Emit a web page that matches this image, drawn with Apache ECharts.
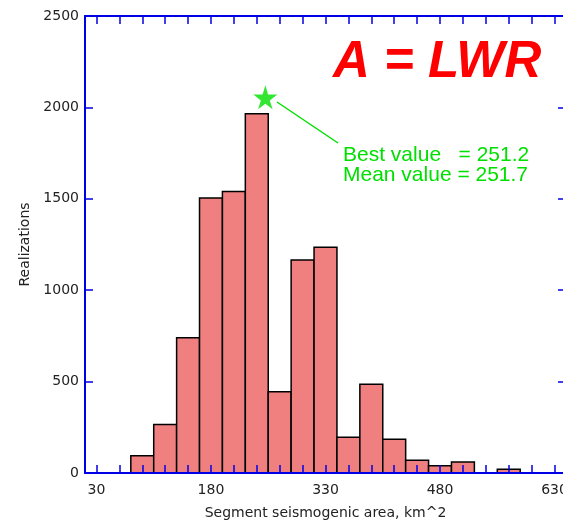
<!DOCTYPE html>
<html>
<head>
<meta charset="utf-8">
<script src="https://cdn.jsdelivr.net/npm/echarts@6/dist/echarts.min.js"></script>
<style>
html, body { margin: 0; padding: 0; background: #fff; }
#main { width: 563px; height: 527px; }
</style>
</head>
<body>
<div id="main"></div>
<script>
// histogram bins (lower edge, km^2) and realization counts
var binLow = [75, 105, 135, 165, 195, 225, 255, 285, 315, 345, 375, 405, 435, 465, 495, 525, 555];
var binWidth = 30;
var counts = [95, 265, 740, 1505, 1540, 1965, 445, 1165, 1235, 195, 485, 185, 70, 40, 60, 0, 20];

var xTickValues = [30, 60, 90, 120, 150, 180, 210, 240, 270, 300, 330, 360, 390, 420, 450, 480, 510, 540, 570, 600, 630];
var xLabelValues = [30, 180, 330, 480, 630];

var bestValue = 251.2;
var meanValue = 251.7;
var starHeight = 2055;

var blue = '#0000E6';
var green = '#00E000';

var data = [];
for (var i = 0; i < binLow.length; i++) {
	data.push([binLow[i], binLow[i] + binWidth, counts[i]]);
}

function renderItem(params, api) {
	var n = api.value(2);
	if (!n) {
		return;
	}
	var p0 = api.coord([api.value(0), n]);
	var p1 = api.coord([api.value(1), 0]);
	return {
		type: 'rect',
		shape: { x: p0[0], y: p0[1], width: p1[0] - p0[0], height: p1[1] - p0[1] },
		style: { fill: '#F08080', stroke: '#000', lineWidth: 1.5 }
	};
}

var tickStyle = { color: blue, width: 1.5 };
var lineStyle = { color: blue, width: 2 };
var labelFont = { color: '#222', fontFamily: 'DejaVu Sans', fontSize: 14 };

var myChart = echarts.init(document.getElementById('main'));
var option = {
	animation: false,
	grid: { left: 85, top: 16, width: 481, height: 457, outerBoundsMode: 'none', containLabel: false },
	xAxis: [{
		type: 'value',
		position: 'bottom',
		min: 15,
		max: 645,
		z: 10,
		axisLine: { show: true, onZero: false, lineStyle: lineStyle },
		axisTick: { show: true, inside: true, length: 8, customValues: xTickValues, lineStyle: tickStyle },
		axisLabel: Object.assign({ customValues: xLabelValues, margin: 10 }, labelFont),
		splitLine: { show: false },
		name: 'Segment seismogenic area, km^2',
		nameLocation: 'middle',
		nameGap: 33,
		nameTextStyle: { color: '#222', fontFamily: 'DejaVu Sans', fontSize: 14 }
	}, {
		type: 'value',
		position: 'top',
		min: 15,
		max: 645,
		z: 10,
		axisLine: { show: true, onZero: false, lineStyle: lineStyle },
		axisTick: { show: true, inside: true, length: 8, customValues: xTickValues, lineStyle: tickStyle },
		axisLabel: { show: false },
		splitLine: { show: false }
	}],
	yAxis: [{
		type: 'value',
		position: 'left',
		min: 0,
		max: 2500,
		interval: 500,
		z: 10,
		axisLine: { show: true, onZero: false, lineStyle: lineStyle },
		axisTick: { show: true, inside: true, length: 8, lineStyle: tickStyle },
		axisLabel: Object.assign({ margin: 6, formatter: function (v) { return String(v); } }, labelFont),
		splitLine: { show: false },
		name: 'Realizations',
		nameLocation: 'middle',
		nameRotate: 90,
		nameGap: 52,
		nameTextStyle: { color: '#222', fontFamily: 'DejaVu Sans', fontSize: 14 }
	}, {
		type: 'value',
		position: 'right',
		min: 0,
		max: 2500,
		interval: 500,
		z: 10,
		axisLine: { show: true, onZero: false, lineStyle: lineStyle },
		axisTick: { show: true, inside: true, length: 8, lineStyle: tickStyle },
		axisLabel: { show: false },
		splitLine: { show: false }
	}],
	series: [{
		type: 'custom',
		renderItem: renderItem,
		encode: { x: [0, 1], y: 2 },
		data: data
	}, {
		type: 'scatter',
		symbol: 'path://M50,0 L61,35 L98,35 L68,57 L79,91 L50,70 L21,91 L32,57 L2,35 L39,35 Z',
		symbolSize: 24,
		itemStyle: { color: green },
		data: [[bestValue, starHeight]],
		z: 5
	}],
	graphic: [{
		type: 'line',
		shape: { x1: 277, y1: 102, x2: 338, y2: 143 },
		style: { stroke: green, lineWidth: 1.5 }
	}, {
		type: 'text',
		x: 343,
		y: 145.5,
		style: {
			text: 'Best value   = ' + bestValue.toFixed(1) + '\nMean value = ' + meanValue.toFixed(1),
			font: '21px "Liberation Sans"',
			lineHeight: 20,
			fill: green,
			verticalAlign: 'top'
		}
	}, {
		type: 'text',
		x: 333,
		y: 63,
		style: {
			text: 'A = LWR',
			font: 'italic bold 51px "Liberation Sans"',
			fill: '#FF0000',
			verticalAlign: 'middle'
		}
	}]
};
myChart.setOption(option);
</script>
</body>
</html>
